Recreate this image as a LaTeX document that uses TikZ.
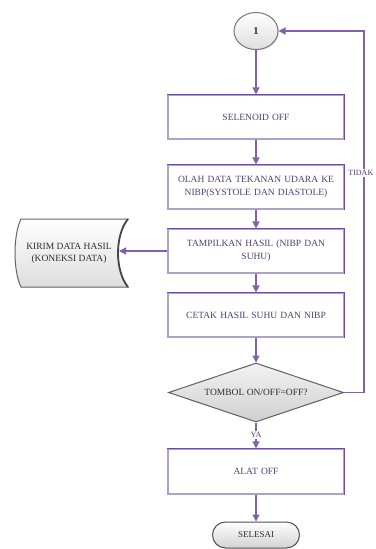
\documentclass[tikz,border=0pt]{standalone}
\usepackage{fontspec}
\setmainfont{Liberation Serif}
\usetikzlibrary{shapes.geometric,arrows.meta,calc,shadows}

\definecolor{arrc}{RGB}{128,98,172}
\definecolor{boxlt}{RGB}{175,160,200}
\definecolor{boxdk}{RGB}{108,78,155}
\definecolor{txtc}{RGB}{82,62,115}
\definecolor{grayb}{RGB}{95,95,95}
\definecolor{grayt}{RGB}{45,45,45}

\begin{document}
\begin{tikzpicture}[x=1pt,y=-1pt,
  pbox/.style={draw=boxlt, line width=1.1pt, fill=white, minimum width=176pt,
    minimum height=44pt, text width=172pt, align=center, text=txtc,
    font=\fontsize{9.5}{13}\selectfont, inner sep=0pt},
  arr/.style={draw=arrc, line width=1.3pt, -{Triangle[width=7pt,length=7pt]}},
  termc/.style={ellipse, draw={rgb,255:red,120;green,120;blue,120}, line width=1pt,
    top color=white, bottom color={rgb,255:red,222;green,222;blue,222},
    minimum width=44pt, minimum height=37pt, inner sep=0pt,
    drop shadow={opacity=0.25, shadow xshift=1pt, shadow yshift=-1pt},
    font=\fontsize{10.5}{12}\selectfont\bfseries, text=grayt},
  dec/.style={diamond, aspect=3, draw=grayb, line width=1pt,
    top color={rgb,255:red,242;green,242;blue,242}, bottom color={rgb,255:red,208;green,208;blue,208},
    minimum width=175pt, minimum height=59pt, inner sep=0pt,
    font=\fontsize{9.5}{12}\selectfont, text=grayt},
  endt/.style={rectangle, rounded corners=13pt, draw={rgb,255:red,80;green,80;blue,80}, line width=1pt,
    top color=white, bottom color={rgb,255:red,210;green,210;blue,210},
    minimum width=87pt, minimum height=26pt, inner sep=0pt,
    font=\fontsize{9}{11}\selectfont, text=grayt},
  storetxt/.style={align=center, font=\fontsize{9.5}{12}\selectfont, text=grayt, inner sep=0pt},
  lbl/.style={fill=white, inner sep=1pt, font=\fontsize{8}{10}\selectfont, text=txtc}
]
\useasboundingbox (0,0) rectangle (375,549);

% nodes
\node[termc] (c1) at (256,31) {1};
\node[pbox] (b1) at (256,117) {SELENOID OFF};
\node[pbox] (b2) at (256,187) {OLAH DATA TEKANAN UDARA KE\\NIBP(SYSTOLE DAN DIASTOLE)};
\node[pbox] (b3) at (256,251) {TAMPILKAN HASIL (NIBP DAN\\SUHU)};
\node[pbox] (b4) at (256,315) {CETAK HASIL SUHU DAN NIBP};
\node[dec] (d1) at (256,392.5) {TOMBOL ON/OFF=OFF?};
\node[pbox, minimum height=45pt] (b5) at (256,471.5) {ALAT OFF};
\node[endt] (e1) at (256,535) {SELESAI};

% darker top/right edges of the process boxes
\foreach \n in {b1,b2,b3,b4,b5}
  \draw[boxdk, line width=1.1pt] (\n.north west) -- (\n.north east) -- (\n.south east);

% stored data shape
\draw[draw={rgb,255:red,100;green,100;blue,100}, line width=1pt,
  top color=white, bottom color={rgb,255:red,222;green,222;blue,222}]
  (21,219) -- (128,219) .. controls (114.7,235) and (114.7,271) .. (128,287)
  -- (21,287) .. controls (13,271) and (13,235) .. (21,219) -- cycle;
\draw[draw={rgb,255:red,70;green,70;blue,70}, line width=1.8pt]
  (128,219) .. controls (114.7,235) and (114.7,271) .. (128,287);
\node[storetxt] (kirim) at (69,253) {KIRIM DATA HASIL\\(KONEKSI DATA)};
\coordinate (kirimE) at (119,251);

% connectors
\draw[arr] (c1.south) -- (b1.north);
\draw[arr] (b1.south) -- (b2.north);
\draw[arr] (b2.south) -- (b3.north);
\draw[arr] (b3.south) -- (b4.north);
\draw[arr] (b4.south) -- (d1.north);
\draw[arr] (d1.south) -- (b5.north);
\draw[arr] (b5.south) -- (e1.north);
\draw[arr] (b3.west) -- (kirimE);
\coordinate (lp) at (364,392.5);
\draw[arr] (d1.east) -- (lp) |- (c1.east);

% labels
\node[lbl] (ya) at (256,435) {YA};
\node[lbl, anchor=east] (tidak) at (374.5,173) {TIDAK};
\end{tikzpicture}
\end{document}
